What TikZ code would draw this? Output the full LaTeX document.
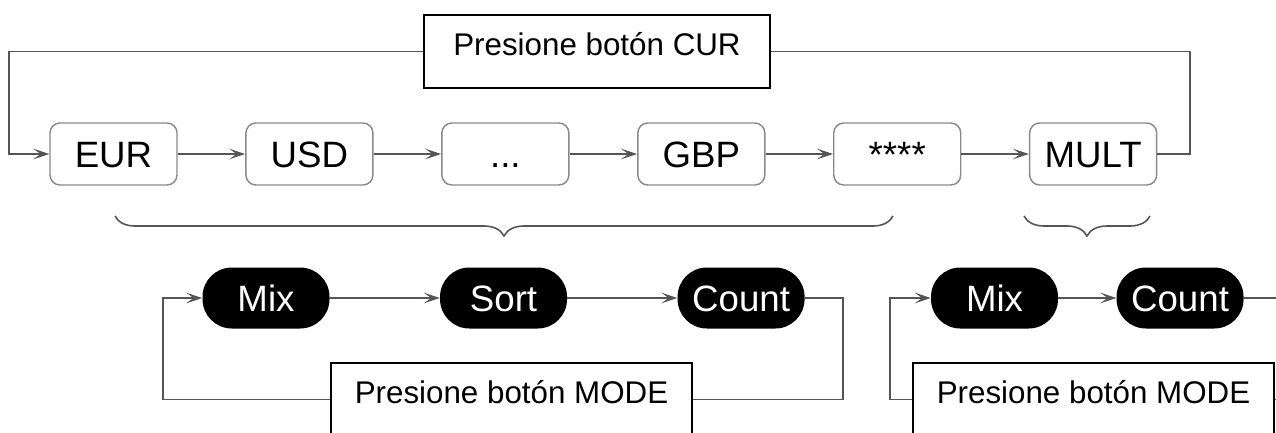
\documentclass[tikz,border=0pt]{standalone}
\usepackage{fontspec}
\setmainfont{Liberation Sans}
\usetikzlibrary{positioning,arrows.meta,decorations.pathreplacing}
\definecolor{wire}{HTML}{555555}
\definecolor{rim}{HTML}{8A8A8A}
\begin{document}
\begin{tikzpicture}[x=0.75pt,y=-0.75pt,
		currency/.style={draw=rim,line width=1.1pt,rounded corners=7.5pt,fill=white,minimum width=95.25pt,minimum height=46.5pt,inner sep=0pt,text height=19.7pt,text depth=0pt,font=\fontsize{27.5}{30}\selectfont},
		action/.style={fill=black,text=white,rounded corners=22pt,minimum width=95.25pt,minimum height=45.75pt,inner sep=0pt,text height=19.7pt,text depth=0pt,font=\fontsize{27.5}{30}\selectfont},
		press/.style={draw,fill=white,line width=1.4pt,minimum width=270.75pt,text height=30pt,text depth=24.75pt,inner ysep=0pt,font=\fontsize{23.5}{26}\selectfont},
		link/.style={draw=wire,line width=1.2pt},
		>={Stealth[length=12pt,width=8pt,inset=5.5pt]},
		node distance=50.6pt]

\useasboundingbox (0,0) rectangle (1276,432);
\clip (0,0) rectangle (1276,432);

\node[currency] (eur) at (113.5,154) {EUR};
\node[currency,right=of eur] (usd) {USD};
\node[currency,right=of usd] (dots) {...};
\node[currency,right=of dots] (gbp) {GBP};
\node[currency,right=of gbp] (stars) {****};
\node[currency,right=of stars] (mult) {MULT};
\node[press,minimum width=259.5pt] (cur) at (597,51.5) {Presione botón CUR};

\node[action] (mixA) at (266,298) {Mix};
\node[action,right=82.5pt of mixA] (sortA) {Sort};
\node[action,right=82.5pt of sortA] (countA) {Count};
\node[press] (modeA) at (511.5,399.5) {Presione botón MODE};

\node[action] (mixB) at (994.5,298) {Mix};
\node[action,right=43.5pt of mixB] (countB) {Count};
\node[press] (modeB) at (1093.5,399.5) {Presione botón MODE};

\coordinate (topL) at (9,51.5);
\coordinate (topR) at (1190,51.5);
\coordinate (loopAL) at (163,298);
\coordinate (loopAR) at (843,298);
\coordinate (loopBL) at (890,298);
\coordinate (loopBR) at (1300,298);

\foreach \a/\b in {eur/usd,usd/dots,dots/gbp,gbp/stars,stars/mult,mixA/sortA,sortA/countA,mixB/countB}
	\draw[link,->] (\a) -- (\b);

\draw[link,->] (cur.west) -- (topL) |- (eur.west);
\draw[link] (cur.east) -- (topR) |- (mult.east);
\draw[link] (countA.east) -- (loopAR) |- (modeA.east);
\draw[link,->] (modeA.west) -| (loopAL) -- (mixA.west);
\draw[link] (countB.east) -- (loopBR) |- (modeB.east);
\draw[link,->] (modeB.west) -| (loopBL) -- (mixB.west);

\draw[link,decorate,decoration={brace,amplitude=15pt}] (893,216) -- (115,216);
\draw[link,decorate,decoration={brace,amplitude=15pt}] (1150,216) -- (1024,216);
\end{tikzpicture}
\end{document}
